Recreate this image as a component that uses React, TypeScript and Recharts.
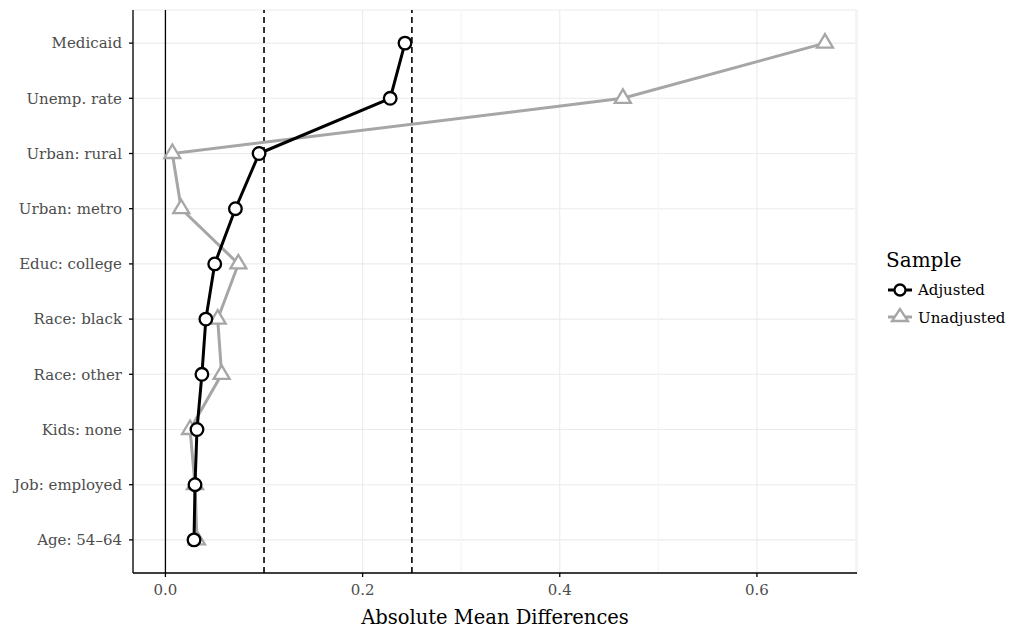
import {
  CartesianGrid,
  ReferenceLine,
  Scatter,
  ScatterChart,
  XAxis,
  YAxis,
} from "recharts";

const variables = [
  "Medicaid",
  "Unemp. rate",
  "Urban: rural",
  "Urban: metro",
  "Educ: college",
  "Race: black",
  "Race: other",
  "Kids: none",
  "Job: employed",
  "Age: 54\u201364",
];

const adjusted = [0.243, 0.228, 0.095, 0.071, 0.05, 0.041, 0.037, 0.032, 0.03, 0.029];
const unadjusted = [0.669, 0.464, 0.007, 0.016, 0.074, 0.053, 0.057, 0.025, 0.03, 0.032];

const xTicks = [0, 0.2, 0.4, 0.6];
const minorTicks = [0.3, 0.5, 0.7];
const thresholds = [0.1, 0.25];

const adjData = variables.map((name, i) => ({ name, x: adjusted[i], y: i + 1 }));
const unadjData = variables.map((name, i) => ({ name, x: unadjusted[i], y: i + 1 }));

const FONT = "'DejaVu Serif', serif";
const GREY = "#a6a6a6";

const CircleDot = (p: any) => (
  <circle cx={p.cx} cy={p.cy} r={6.3} fill="#fff" stroke="#000" strokeWidth={2.3} />
);

const TriangleDot = (p: any) => (
  <polygon
    points={`${p.cx},${p.cy - 9} ${p.cx - 8},${p.cy + 4.5} ${p.cx + 8},${p.cy + 4.5}`}
    fill="#fff"
    stroke={GREY}
    strokeWidth={2.3}
  />
);

function SampleLegend() {
  return (
    <svg
      width={126}
      height={90}
      style={{ position: "absolute", left: 886, top: 248, fontFamily: FONT, overflow: "visible" }}
    >
      <text x={0} y={19} fontSize={20} fill="#000">
        Sample
      </text>
      <line x1={2} x2={26} y1={42} y2={42} stroke="#000" strokeWidth={3} />
      <circle cx={14} cy={42} r={5.5} fill="#fff" stroke="#000" strokeWidth={2.3} />
      <text x={32} y={47} fontSize={15} fill="#000">
        Adjusted
      </text>
      <line x1={2} x2={26} y1={69} y2={69} stroke={GREY} strokeWidth={3} />
      <polygon points="14,61 6,73 22,73" fill="#fff" stroke={GREY} strokeWidth={2.3} />
      <text x={32} y={75} fontSize={15} fill="#000">
        Unadjusted
      </text>
    </svg>
  );
}

export default function App() {
  return (
    <div style={{ position: "absolute", left: 0, top: 0, width: 1012, height: 629, background: "#fff" }}>
      <ScatterChart
        width={1012}
        height={629}
        margin={{ top: 10, right: 155, bottom: 0, left: 0 }}
        style={{ fontFamily: FONT }}
      >
        <CartesianGrid stroke="#ebebeb" strokeWidth={1.1} />
        {minorTicks.map((v) => (
          <ReferenceLine key={v} x={v} stroke="#f5f5f5" strokeWidth={1.1} />
        ))}
        <XAxis
          type="number"
          dataKey="x"
          domain={[-0.0329, 0.7015]}
          allowDataOverflow
          ticks={xTicks}
          tickFormatter={(v: number) => v.toFixed(1)}
          height={56}
          tickSize={4}
          tickMargin={7}
          stroke="#000"
          strokeWidth={1.3}
          tick={{ fill: "#4d4d4d", fontSize: 15 }}
          label={{
            value: "Absolute Mean Differences",
            position: "insideBottom",
            offset: 5,
            fill: "#000",
            fontSize: 19.5,
          }}
        />
        <YAxis
          type="number"
          dataKey="y"
          reversed
          domain={[0.4, 10.6]}
          allowDataOverflow
          ticks={variables.map((_, i) => i + 1)}
          tickFormatter={(v: number) => variables[v - 1] ?? ""}
          width={133}
          tickSize={4}
          tickMargin={7}
          stroke="#000"
          strokeWidth={1.3}
          tick={{ fill: "#4d4d4d", fontSize: 15 }}
          interval={0}
        />
        <ReferenceLine x={0} stroke="#000" strokeWidth={1.3} />
        {thresholds.map((v) => (
          <ReferenceLine key={v} x={v} stroke="#000" strokeWidth={1.6} strokeDasharray="6 4" />
        ))}
        <Scatter
          name="Unadjusted"
          data={unadjData}
          fill={GREY}
          line={{ stroke: GREY, strokeWidth: 3 }}
          shape={TriangleDot}
          isAnimationActive={false}
        />
        <Scatter
          name="Adjusted"
          data={adjData}
          fill="#000"
          line={{ stroke: "#000", strokeWidth: 3 }}
          shape={CircleDot}
          isAnimationActive={false}
        />
      </ScatterChart>
      <SampleLegend />
    </div>
  );
}
